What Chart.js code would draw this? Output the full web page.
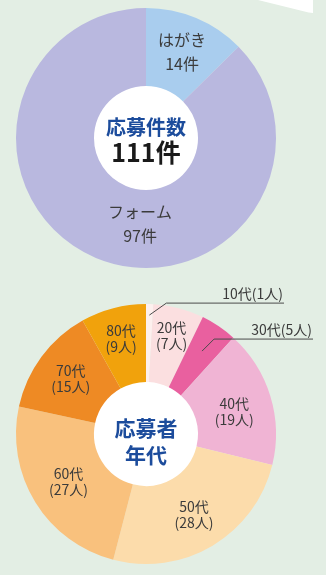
<!DOCTYPE html>
<html lang="ja">
<head>
<meta charset="utf-8">
<script src="https://cdn.jsdelivr.net/npm/chart.js@4"></script>
<style>
  html, body { margin: 0; padding: 0; }
  body {
    width: 326px; height: 575px; overflow: hidden; position: relative;
    background: #e3eee4;
    font-family: "Noto Sans CJK JP", sans-serif;
  }
  .corner {
    position: absolute; left: 258px; top: 0; width: 55px; height: 13px;
    background: #fff;
    clip-path: polygon(0 0, 100% 0, 100% 100%, 92% 96%);
  }
  .chart { position: absolute; left: 0; width: 326px; }
  #entries-wrap { top: 0; height: 280px; }
  #ages-wrap { top: 280px; height: 295px; }
</style>
</head>
<body>
<div class="corner"></div>
<div class="chart" id="entries-wrap"><canvas id="entries-chart"></canvas></div>
<div class="chart" id="ages-wrap"><canvas id="ages-chart"></canvas></div>

<script>
// 応募方法別の件数
const methods = ['はがき', 'フォーム'];
const methodCounts = [14, 97];
const methodColors = ['#a9cdee', '#b9b8df'];

// 応募者の年代別人数
const ageGroups = ['10代', '20代', '30代', '40代', '50代', '60代', '70代', '80代'];
const agePeople = [1, 7, 5, 19, 28, 27, 15, 9];
const ageColors = ['#fdf0ee', '#fbdfe0', '#e9609f', '#f0b4d4', '#fcdcab', '#f9c17d', '#ee8a24', '#f1a20c'];

const FONT = '"Noto Sans CJK JP", sans-serif';
const TEXT = '#3b3b3b';
const sum = arr => arr.reduce((a, b) => a + b, 0);

// 中央の白い円と、各扇形のラベル・引き出し線
const ringLabels = {
    id: 'ringLabels',
    beforeDatasetsDraw(chart) {
        const arc = chart.getDatasetMeta(0).data[0];
        if (!arc) return;
        const { ctx } = chart;
        ctx.save();
        ctx.fillStyle = '#ffffff';
        ctx.beginPath();
        ctx.arc(arc.x, arc.y, arc.innerRadius + 1, 0, Math.PI * 2);
        ctx.fill();
        ctx.restore();
    },
    afterDatasetsDraw(chart, args, opts) {
        const { ctx } = chart;
        const arcs = chart.getDatasetMeta(0).data;
        if (!arcs.length) return;
        const cx = arcs[0].x, cy = arcs[0].y, R = arcs[0].outerRadius;
        const at = (arc, p) => {
            const a = p.deg != null
                ? p.deg * Math.PI / 180 - Math.PI / 2
                : (arc.startAngle + arc.endAngle) / 2;
            return [cx + Math.cos(a) * R * p.r, cy + Math.sin(a) * R * p.r];
        };

        ctx.save();
        ctx.textAlign = 'center';
        ctx.textBaseline = 'middle';
        ctx.fillStyle = TEXT;
        ctx.font = `${opts.size}px ${FONT}`;
        arcs.forEach((arc, i) => {
            const p = opts.place[i];
            if (!p) return;
            const [x, y] = at(arc, p);
            const lines = opts.lines(i);
            lines.forEach((t, k) => {
                ctx.fillText(t, x, y + (k - (lines.length - 1) / 2) * opts.gap);
            });
        });

        // 細い扇形は外側に引き出して表記
        (opts.callouts || []).forEach(c => {
            const [x0, y0] = at(arcs[c.index], c);
            const x1 = x0 + c.elbow[0], y1 = y0 + c.elbow[1];
            ctx.strokeStyle = '#4a4a4a';
            ctx.lineWidth = 1;
            ctx.beginPath();
            ctx.moveTo(x0, y0);
            ctx.lineTo(x1, y1);
            ctx.lineTo(c.endX, y1);
            ctx.stroke();
            ctx.textAlign = 'right';
            ctx.textBaseline = 'alphabetic';
            ctx.fillText(opts.lines(c.index).join(''), c.endX - 1, y1 - 4);
        });

        // 中央の見出し
        opts.center.forEach(t => {
            ctx.textAlign = 'center';
            ctx.textBaseline = 'middle';
            ctx.fillStyle = t.color;
            ctx.font = `bold ${t.size}px ${FONT}`;
            ctx.fillText(t.text, cx, cy + t.dy);
        });
        ctx.restore();
    },
};

function ringChart(id, labels, values, colors, padding, labelOpts) {
    return new Chart(document.getElementById(id), {
        type: 'doughnut',
        data: {
            labels,
            datasets: [{
                data: values,
                backgroundColor: colors,
                borderWidth: 0,
                hoverOffset: 0,
            }],
        },
        options: {
            responsive: true,
            maintainAspectRatio: false,
            animation: false,
            cutout: '40%',
            rotation: 0,
            layout: { padding },
            events: [],
            plugins: {
                legend: { display: false },
                tooltip: { enabled: false },
                ringLabels: labelOpts,
            },
        },
        plugins: [ringLabels],
    });
}

ringChart('entries-chart', methods, methodCounts, methodColors,
    { top: 8, left: 16, right: 50, bottom: 12 },
    {
        size: 16,
        gap: 24,
        place: [{ r: 0.72 }, { r: 0.66, deg: 184 }],
        lines: i => [methods[i], `${methodCounts[i]}件`],
        center: [
            { text: '応募件数', size: 20, dy: -11, color: '#1c4c9c' },
            { text: `${sum(methodCounts)}件`, size: 25, dy: 14, color: '#1a1a1a' },
        ],
    });

ringChart('ages-chart', ageGroups, agePeople, ageColors,
    { top: 24, left: 16, right: 50, bottom: 11 },
    {
        size: 14,
        gap: 16,
        place: [null, { r: 0.78 }, null, { r: 0.70, deg: 76 }, { r: 0.72 }, { r: 0.70 }, { r: 0.72 }, { r: 0.76 }],
        lines: i => [ageGroups[i], `(${agePeople[i]}人)`],
        callouts: [
            { index: 0, r: 0.915, elbow: [17, -12], endX: 284 },
            { index: 2, r: 0.77, elbow: [12, -12], endX: 313 },
        ],
        center: [
            { text: '応募者', size: 21, dy: -6, color: '#1c4c9c' },
            { text: '年代', size: 21, dy: 21, color: '#1c4c9c' },
        ],
    });
</script>
</body>
</html>
